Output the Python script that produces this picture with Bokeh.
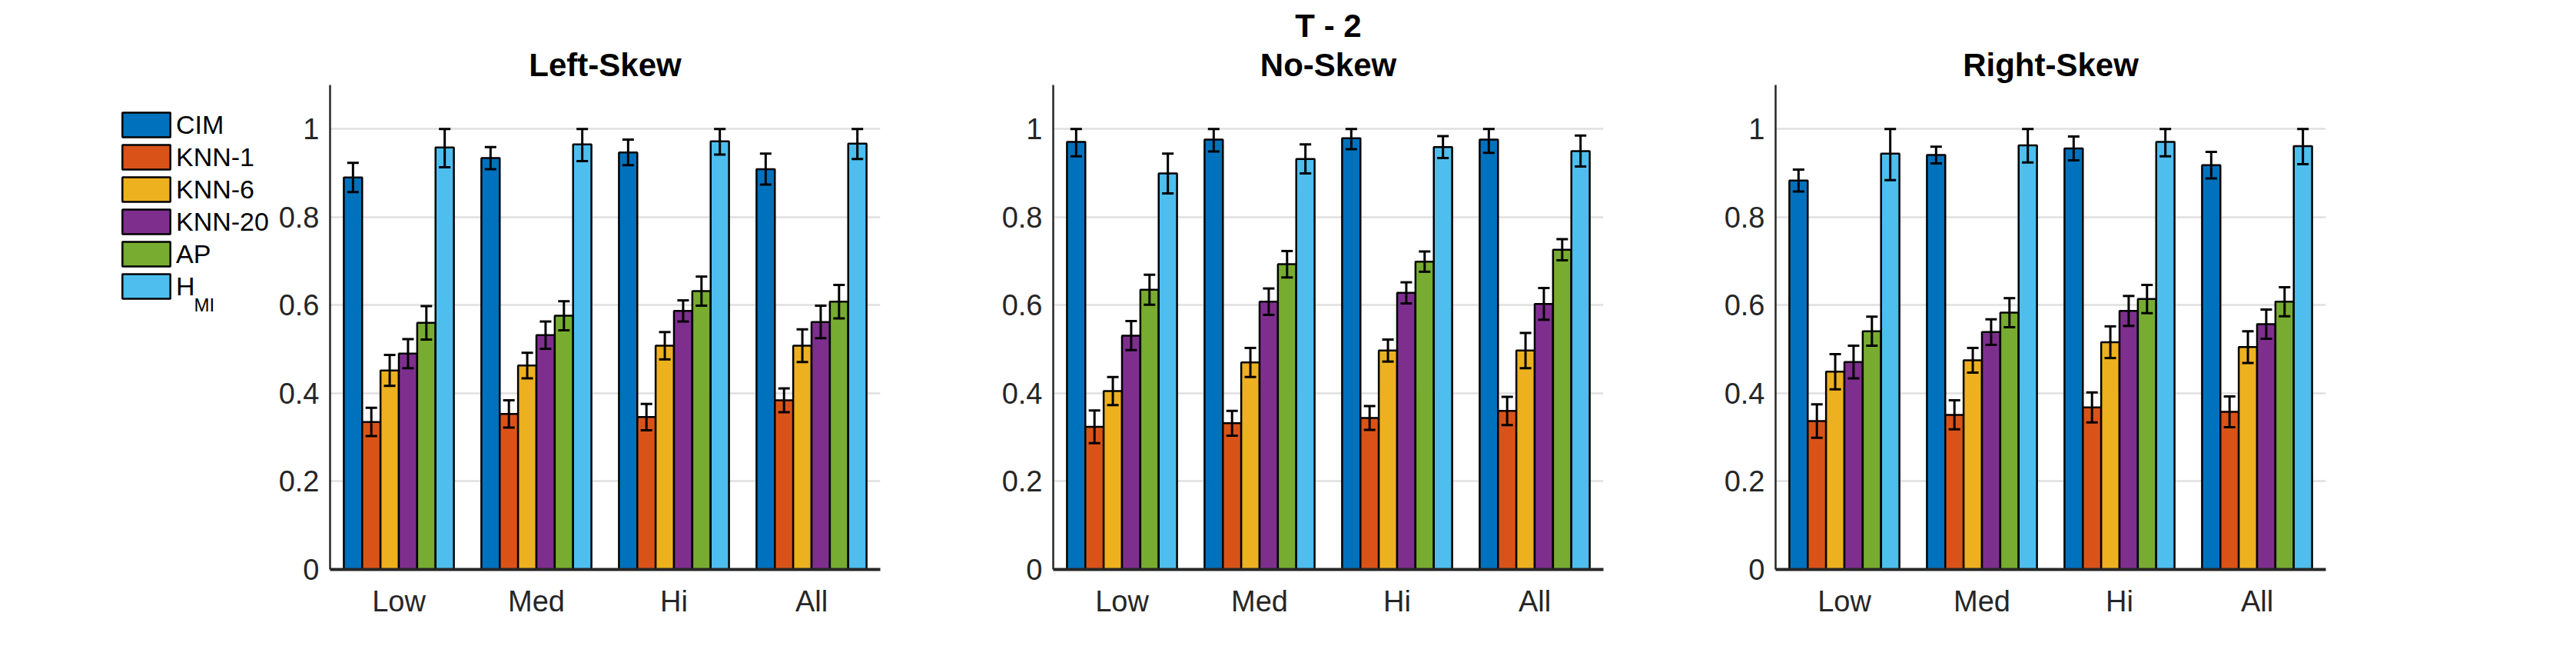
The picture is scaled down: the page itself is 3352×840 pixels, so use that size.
import numpy as np
from bokeh.plotting import figure
from bokeh.models import (Range1d, FixedTicker, Legend, LegendItem, Label,
                          Title, ColumnDataSource)
from bokeh.layouts import row
from bokeh.embed import file_html
from bokeh.resources import INLINE

# ---------------- data ----------------
groups = ["Low", "Med", "Hi", "All"]
series = ["CIM", "KNN-1", "KNN-6", "KNN-20", "AP", "H"]
series_subscript = ["", "", "", "", "", "MI"]
colors = ["#0072BD", "#D95319", "#EDB120", "#7E2F8E", "#77AC30", "#4DBEEE"]
y_ticks = [0, 0.2, 0.4, 0.6, 0.8, 1.0]
y_tick_labels = ["0", "0.2", "0.4", "0.6", "0.8", "1"]
panel_titles = ["Left-Skew", "No-Skew", "Right-Skew"]
super_title = "T - 2"

# rows: CIM, KNN-1, KNN-6, KNN-20, AP, H_MI ; columns: Low, Med, Hi, All
left_skew_mean = [
    [0.890, 0.934, 0.947, 0.909],
    [0.335, 0.353, 0.346, 0.384],
    [0.452, 0.463, 0.508, 0.508],
    [0.490, 0.532, 0.587, 0.562],
    [0.560, 0.576, 0.632, 0.608],
    [0.958, 0.965, 0.972, 0.967],
]
left_skew_err = [
    [0.033, 0.025, 0.029, 0.035],
    [0.032, 0.031, 0.030, 0.027],
    [0.035, 0.029, 0.031, 0.037],
    [0.033, 0.031, 0.024, 0.037],
    [0.038, 0.033, 0.033, 0.038],
    [0.045, 0.038, 0.030, 0.035],
]
no_skew_mean = [
    [0.971, 0.976, 0.979, 0.976],
    [0.324, 0.332, 0.344, 0.360],
    [0.405, 0.470, 0.497, 0.497],
    [0.531, 0.608, 0.628, 0.603],
    [0.635, 0.693, 0.699, 0.726],
    [0.899, 0.932, 0.959, 0.950],
]
no_skew_err = [
    [0.033, 0.027, 0.025, 0.030],
    [0.037, 0.028, 0.027, 0.032],
    [0.032, 0.033, 0.025, 0.040],
    [0.033, 0.030, 0.024, 0.036],
    [0.034, 0.030, 0.023, 0.024],
    [0.045, 0.033, 0.025, 0.035],
]
right_skew_mean = [
    [0.883, 0.941, 0.956, 0.918],
    [0.337, 0.351, 0.368, 0.358],
    [0.449, 0.475, 0.516, 0.505],
    [0.471, 0.539, 0.587, 0.557],
    [0.541, 0.583, 0.614, 0.608],
    [0.944, 0.963, 0.971, 0.961],
]
right_skew_err = [
    [0.025, 0.019, 0.027, 0.030],
    [0.038, 0.033, 0.034, 0.035],
    [0.040, 0.028, 0.036, 0.036],
    [0.037, 0.029, 0.034, 0.033],
    [0.033, 0.033, 0.032, 0.033],
    [0.060, 0.039, 0.033, 0.041],
]

FONT = "Liberation Sans"
AX_COLOR = "#262626"
BAR_LW = 2.5
ERR_LW = 3
H = 824
NSER = len(series)
BW = 0.8 / NSER
CAP = 0.042


def bar_sources(mean, err):
    out = []
    for k in range(NSER):
        xs = [g + 1 + (k - (NSER - 1) / 2) * BW for g in range(len(groups))]
        m = np.array(mean[k])
        e = np.array(err[k])
        out.append(ColumnDataSource(dict(
            x=xs, top=m,
            lo=m - e, hi=np.minimum(m + e, 1.0),
            xl=[x - CAP for x in xs], xr=[x + CAP for x in xs],
        )))
    return out


def make_title(text, standoff=7):
    return Title(text=text, align="center", text_font=FONT,
                 text_font_size="42px", text_font_style="bold",
                 text_color="black", standoff=standoff)


def make_panel(sources, title_text, width, border_left, border_right,
               supertitle=None):
    p = figure(width=width, height=H,
               x_range=Range1d(0.5, 4.5), y_range=Range1d(0, 1.1),
               output_backend="svg", toolbar_location=None,
               min_border_left=border_left, min_border_right=border_right,
               min_border_top=110, min_border_bottom=84)
    p.outline_line_color = None
    p.background_fill_color = "white"
    p.border_fill_color = "white"

    for k, src in enumerate(sources):
        p.vbar(x="x", top="top", width=BW, bottom=0, source=src,
               fill_color=colors[k], line_color="black", line_width=BAR_LW)
        p.segment(x0="x", x1="x", y0="lo", y1="hi", source=src,
                  line_color="black", line_width=ERR_LW)
        p.segment(x0="xl", x1="xr", y0="lo", y1="lo", source=src,
                  line_color="black", line_width=ERR_LW)
        p.segment(x0="xl", x1="xr", y0="hi", y1="hi", source=src,
                  line_color="black", line_width=ERR_LW)

    # axes
    p.xaxis.ticker = FixedTicker(ticks=[1, 2, 3, 4])
    p.xaxis.major_label_overrides = {i + 1: g for i, g in enumerate(groups)}
    p.yaxis.ticker = FixedTicker(ticks=y_ticks)
    p.yaxis.major_label_overrides = {t: l for t, l in zip(y_ticks, y_tick_labels)}
    for ax in (p.xaxis[0], p.yaxis[0]):
        ax.major_tick_in = 0
        ax.major_tick_out = 0
        ax.minor_tick_in = 0
        ax.minor_tick_out = 0
        ax.axis_line_color = AX_COLOR
        ax.major_label_text_font = FONT
        ax.major_label_text_font_size = "38px"
        ax.major_label_text_color = AX_COLOR
    p.xaxis.major_label_standoff = 20
    p.yaxis.major_label_standoff = 14
    p.xaxis.axis_line_width = 4
    p.yaxis.axis_line_width = 2.5
    p.xgrid.visible = False
    p.ygrid.ticker = FixedTicker(ticks=y_ticks)
    p.ygrid.grid_line_color = "#e0e0e0"
    p.ygrid.grid_line_width = 2.5

    p.add_layout(make_title(title_text, standoff=5), "above")
    if supertitle is not None:
        p.add_layout(make_title(supertitle, standoff=0), "above")
    return p


left_src = bar_sources(left_skew_mean, left_skew_err)
no_src = bar_sources(no_skew_mean, no_skew_err)
right_src = bar_sources(right_skew_mean, right_skew_err)

# ---- legend figure (left of the first panel); its renderers are hidden ----
leg = figure(width=357, height=H, x_range=Range1d(0.5, 4.5), y_range=Range1d(0, 1.1),
             output_backend="svg", toolbar_location=None,
             x_axis_location=None, y_axis_location=None,
             min_border_left=0, min_border_right=0,
             min_border_top=110, min_border_bottom=84)
leg.outline_line_color = None
leg.grid.visible = False
items = []
for k, (s, src) in enumerate(zip(series, left_src)):
    r = leg.vbar(x="x", top="top", width=BW, bottom=0, source=src,
                 fill_color=colors[k], line_color="black", line_width=BAR_LW)
    r.visible = False
    items.append(LegendItem(label=s, renderers=[r]))
legend = Legend(items=items, location=(151, 348),
                glyph_width=78, glyph_height=40,
                label_standoff=0, spacing=2, padding=0, margin=0,
                border_line_color=None, background_fill_alpha=0,
                inactive_fill_alpha=0,
                label_text_font=FONT, label_text_font_size="34px",
                label_text_color="black")
leg.add_layout(legend, "center")
leg.add_layout(Label(x=252, y=344, x_units="screen", y_units="screen",
                     text=series_subscript[5], text_align="left",
                     text_baseline="alphabetic", text_font=FONT,
                     text_font_size="24px", text_color="black"))

p1 = make_panel(left_src, panel_titles[0], 895, 72, 107)
p2 = make_panel(no_src, panel_titles[1], 940, 118, 106, supertitle=super_title)
p3 = make_panel(right_src, panel_titles[2], 1144, 118, 310)

layout = row(leg, p1, p2, p3)
open("out.html", "w").write(file_html(layout, INLINE))
